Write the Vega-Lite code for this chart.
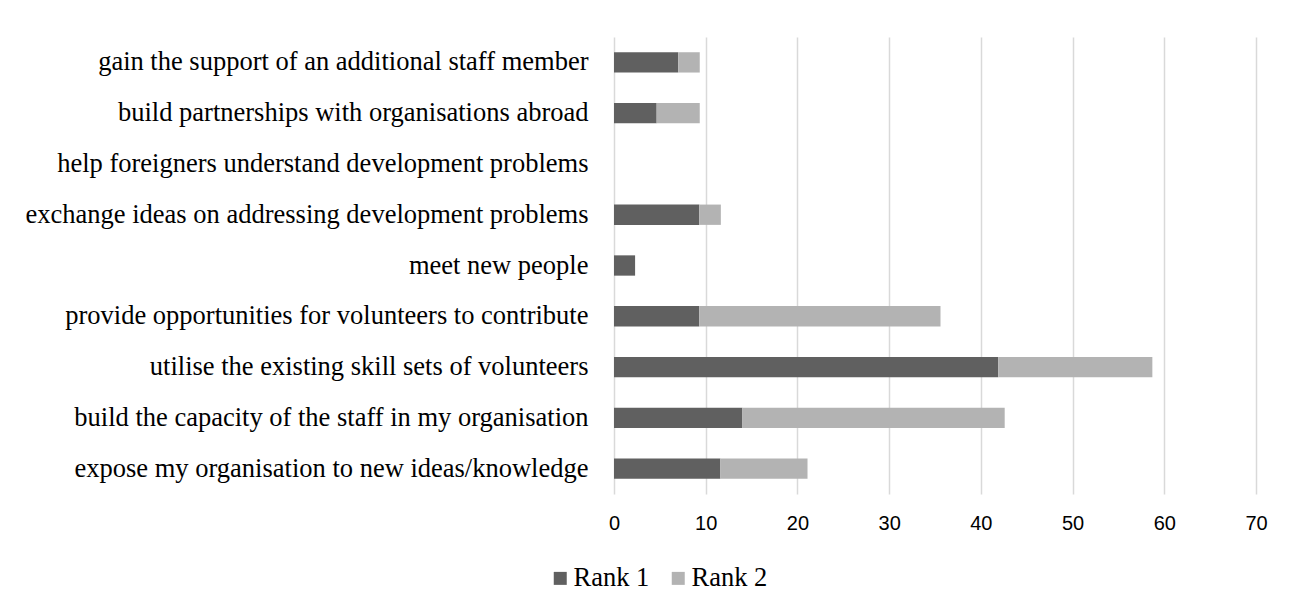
{
  "$schema": "https://vega.github.io/schema/vega-lite/v6.json",
  "width": 642,
  "height": 457,
  "autosize": {"type": "none"},
  "padding": {"left": 614, "top": 37, "right": 50, "bottom": 114},
  "background": "white",
  "data": {
    "values": [
      {"item": "gain the support of an additional staff member", "rank": "Rank 1", "value": 7.0},
      {"item": "gain the support of an additional staff member", "rank": "Rank 2", "value": 2.35},
      {"item": "build partnerships with organisations abroad", "rank": "Rank 1", "value": 4.65},
      {"item": "build partnerships with organisations abroad", "rank": "Rank 2", "value": 4.7},
      {"item": "help foreigners understand development problems", "rank": "Rank 1", "value": 0},
      {"item": "help foreigners understand development problems", "rank": "Rank 2", "value": 0},
      {"item": "exchange ideas on addressing development problems", "rank": "Rank 1", "value": 9.3},
      {"item": "exchange ideas on addressing development problems", "rank": "Rank 2", "value": 2.35},
      {"item": "meet new people", "rank": "Rank 1", "value": 2.3},
      {"item": "meet new people", "rank": "Rank 2", "value": 0},
      {"item": "provide opportunities for volunteers to contribute", "rank": "Rank 1", "value": 9.3},
      {"item": "provide opportunities for volunteers to contribute", "rank": "Rank 2", "value": 26.3},
      {"item": "utilise the existing skill sets of volunteers", "rank": "Rank 1", "value": 41.9},
      {"item": "utilise the existing skill sets of volunteers", "rank": "Rank 2", "value": 16.8},
      {"item": "build the capacity of the staff in my organisation", "rank": "Rank 1", "value": 14.0},
      {"item": "build the capacity of the staff in my organisation", "rank": "Rank 2", "value": 28.6},
      {"item": "expose my organisation to new ideas/knowledge", "rank": "Rank 1", "value": 11.6},
      {"item": "expose my organisation to new ideas/knowledge", "rank": "Rank 2", "value": 9.5}
    ]
  },
  "mark": {"type": "bar"},
  "encoding": {
    "y": {
      "field": "item",
      "type": "nominal",
      "sort": [
        "gain the support of an additional staff member",
        "build partnerships with organisations abroad",
        "help foreigners understand development problems",
        "exchange ideas on addressing development problems",
        "meet new people",
        "provide opportunities for volunteers to contribute",
        "utilise the existing skill sets of volunteers",
        "build the capacity of the staff in my organisation",
        "expose my organisation to new ideas/knowledge"
      ],
      "scale": {"paddingInner": 0.6, "paddingOuter": 0.3},
      "axis": {
        "title": null,
        "domain": false,
        "ticks": false,
        "grid": false,
        "labelFont": "Liberation Serif",
        "labelFontSize": 26.5,
        "labelColor": "#000000",
        "labelPadding": 26,
        "labelLimit": 700
      }
    },
    "x": {
      "field": "value",
      "type": "quantitative",
      "stack": "zero",
      "scale": {"domain": [0, 70], "nice": false},
      "axis": {
        "title": null,
        "domain": false,
        "ticks": false,
        "values": [0, 10, 20, 30, 40, 50, 60, 70],
        "gridColor": "#d9d9d9",
        "gridWidth": 1.5,
        "labelFlush": false,
        "labelFont": "Liberation Sans",
        "labelFontSize": 20,
        "labelColor": "#000000",
        "labelPadding": 19
      }
    },
    "color": {
      "field": "rank",
      "type": "nominal",
      "scale": {"domain": ["Rank 1", "Rank 2"], "range": ["#606060", "#b3b3b3"]},
      "legend": {
        "title": null,
        "orient": "none",
        "direction": "horizontal",
        "legendX": -67,
        "legendY": 528,
        "symbolType": "square",
        "symbolSize": 169,
        "symbolStrokeWidth": 0,
        "labelFont": "Liberation Serif",
        "labelFontSize": 26.5,
        "labelColor": "#000000",
        "labelOffset": 0,
        "columnPadding": 15
      }
    },
    "order": {"field": "rank", "sort": "ascending"}
  },
  "config": {"view": {"stroke": null}}
}
